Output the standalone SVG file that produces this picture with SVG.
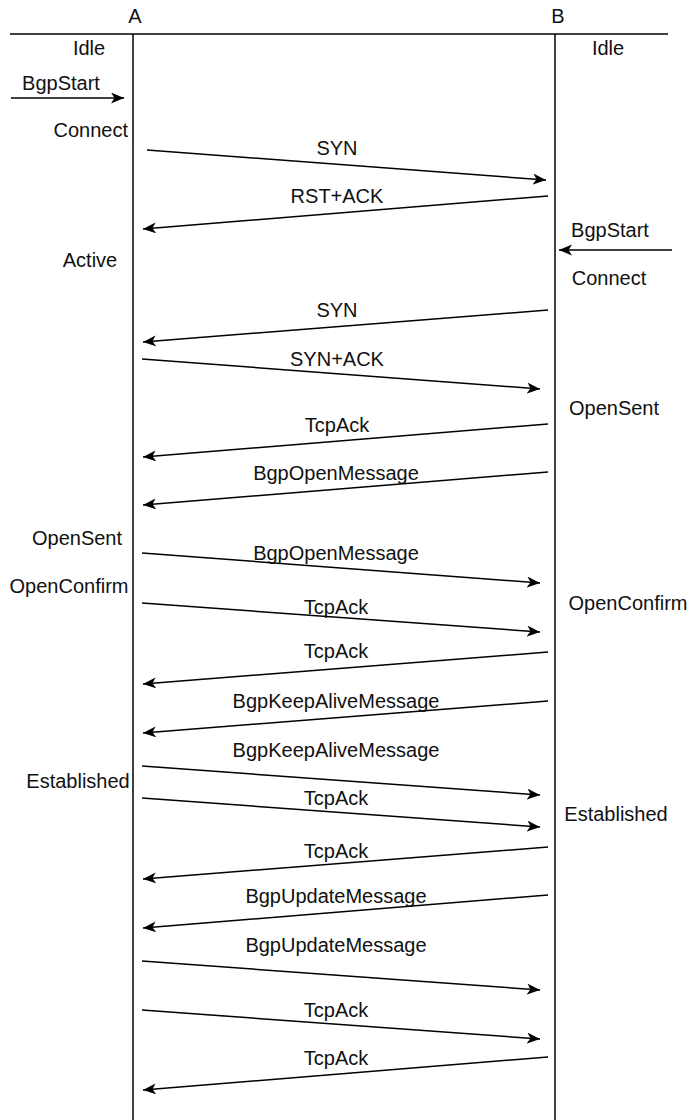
<svg xmlns="http://www.w3.org/2000/svg" width="690" height="1120" viewBox="0 0 690 1120">
  <style>
    text { font-family: "Liberation Sans", Arial, sans-serif; font-size: 20px; fill: #111; }
    .mid { text-anchor: middle; }
    .end { text-anchor: end; }
    .life { stroke: #000; stroke-width: 1.5; fill: none; }
    .msg { stroke: #000; stroke-width: 1.5; fill: none; marker-end: url(#head); }
  </style>
  <defs>
    <marker id="head" markerUnits="userSpaceOnUse" markerWidth="15" markerHeight="12" refX="13" refY="5.5" orient="auto">
      <path d="M0,0 L13,5.5 L0,11 L3.5,5.5 Z" fill="#000"/>
    </marker>
  </defs>
  <rect width="690" height="1120" fill="#fff"/>

  <!-- participants and lifelines -->
  <g id="participant-A">
    <text class="mid" x="135" y="23">A</text>
    <line class="life" x1="133" y1="34" x2="133" y2="1120"/>
  </g>
  <g id="participant-B">
    <text class="mid" x="558" y="23">B</text>
    <line class="life" x1="555" y1="34" x2="555" y2="1120"/>
  </g>
  <g id="header">
    <line class="life" x1="10" y1="34" x2="668" y2="34"/>
  </g>

  <!-- state labels of A -->
  <g id="states-A">
    <text class="mid" x="89" y="55">Idle</text>
    <text class="mid" x="61" y="90">BgpStart</text>
    <text class="end" x="128" y="137">Connect</text>
    <text class="mid" x="90" y="267">Active</text>
    <text class="mid" x="77" y="545">OpenSent</text>
    <text class="mid" x="69" y="593">OpenConfirm</text>
    <text class="mid" x="78" y="788">Established</text>
  </g>

  <!-- state labels of B -->
  <g id="states-B">
    <text class="mid" x="608" y="55">Idle</text>
    <text class="mid" x="610" y="237">BgpStart</text>
    <text class="mid" x="609" y="285">Connect</text>
    <text class="mid" x="614" y="415">OpenSent</text>
    <text class="mid" x="628" y="610">OpenConfirm</text>
    <text class="mid" x="616" y="821">Established</text>
  </g>

  <!-- messages -->
  <g id="connectors">
    <line class="msg" x1="11" y1="98" x2="124" y2="98"/>
    <line class="msg" x1="672" y1="250" x2="559" y2="250"/>

    <line class="msg" x1="147" y1="150" x2="546" y2="180"/>
    <line class="msg" x1="548" y1="196" x2="143" y2="229"/>
    <line class="msg" x1="548" y1="310" x2="143" y2="342"/>
    <line class="msg" x1="142" y1="359" x2="540" y2="389"/>
    <line class="msg" x1="548" y1="424" x2="143" y2="457"/>
    <line class="msg" x1="548" y1="472" x2="143" y2="505"/>
    <line class="msg" x1="142" y1="553" x2="540" y2="583"/>
    <line class="msg" x1="142" y1="603" x2="540" y2="632"/>
    <line class="msg" x1="548" y1="652" x2="143" y2="684"/>
    <line class="msg" x1="548" y1="701" x2="143" y2="733"/>
    <line class="msg" x1="142" y1="766" x2="540" y2="795"/>
    <line class="msg" x1="142" y1="798" x2="540" y2="827"/>
    <line class="msg" x1="548" y1="847" x2="143" y2="879"/>
    <line class="msg" x1="548" y1="895" x2="143" y2="928"/>
    <line class="msg" x1="142" y1="961" x2="540" y2="990"/>
    <line class="msg" x1="142" y1="1010" x2="540" y2="1039"/>
    <line class="msg" x1="548" y1="1057" x2="143" y2="1090"/>
  </g>

  <!-- message labels -->
  <g id="message-labels">
    <text class="mid" x="337" y="155">SYN</text>
    <text class="mid" x="337" y="203">RST+ACK</text>
    <text class="mid" x="337" y="317">SYN</text>
    <text class="mid" x="337" y="366">SYN+ACK</text>
    <text class="mid" x="337" y="432">TcpAck</text>
    <text class="mid" x="336" y="480">BgpOpenMessage</text>
    <text class="mid" x="336" y="560">BgpOpenMessage</text>
    <text class="mid" x="336" y="614">TcpAck</text>
    <text class="mid" x="336" y="658">TcpAck</text>
    <text class="mid" x="336" y="708">BgpKeepAliveMessage</text>
    <text class="mid" x="336" y="757">BgpKeepAliveMessage</text>
    <text class="mid" x="336" y="805">TcpAck</text>
    <text class="mid" x="336" y="858">TcpAck</text>
    <text class="mid" x="336" y="903">BgpUpdateMessage</text>
    <text class="mid" x="336" y="952">BgpUpdateMessage</text>
    <text class="mid" x="336" y="1017">TcpAck</text>
    <text class="mid" x="336" y="1065">TcpAck</text>
  </g>
</svg>
